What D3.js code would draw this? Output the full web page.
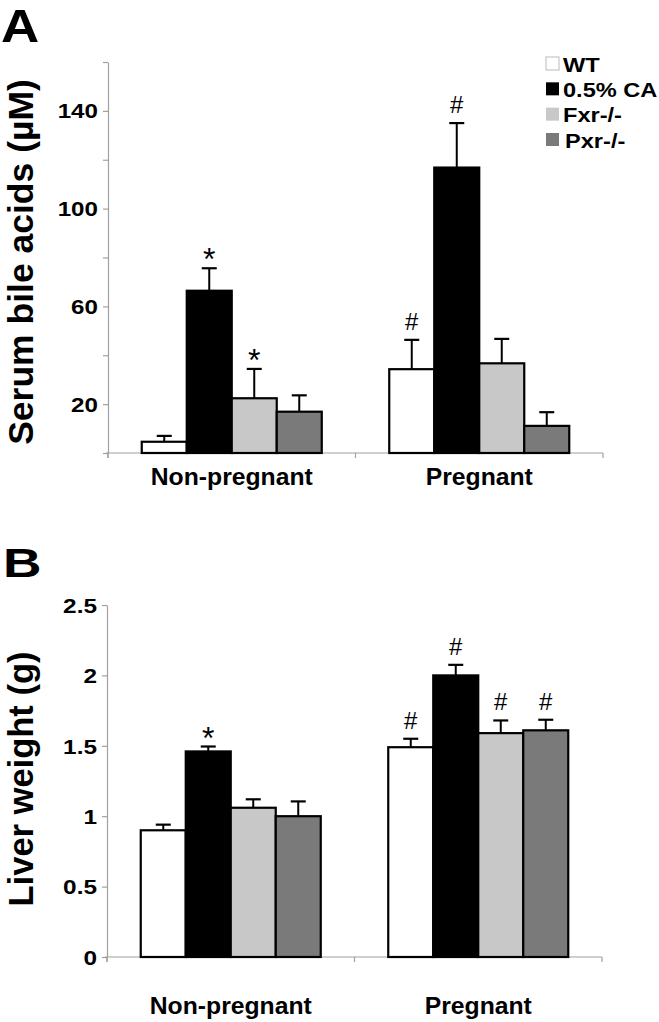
<!DOCTYPE html>
<html><head><meta charset="utf-8">
<script src="https://cdn.jsdelivr.net/npm/d3@7"></script>
<style>
html,body{margin:0;padding:0;background:#fff;}
text{font-family:"Liberation Sans",Arial,sans-serif;}
</style></head>
<body>
<script>
const categories = ["Non-pregnant", "Pregnant"];
const series = ["WT", "0.5% CA", "Fxr-/-", "Pxr-/-"];
const seriesColors = ["#ffffff", "#000000", "#c8c8c8", "#7a7a7a"];

// Panel A: serum bile acids (µM)
const bileMean = [[4.6, 66.4, 22.4, 16.9], [34.3, 116.8, 36.7, 11.1]];
const bileErr  = [[2.4, 9.2, 12.0, 6.7], [12.0, 18.2, 10.0, 5.6]];
const bileMarks = [["", "*", "*", ""], ["#", "#", "", ""]];
const bileTicks = [0, 20, 40, 60, 80, 100, 120, 140, 160];
const bileTickLabels = [20, 60, 100, 140];

// Panel B: liver weight (g)
const liverMean = [[0.90, 1.46, 1.06, 1.00], [1.49, 2.00, 1.59, 1.61]];
const liverErr  = [[0.04, 0.035, 0.06, 0.105], [0.06, 0.075, 0.09, 0.075]];
const liverMarks = [["", "*", "", ""], ["#", "#", "#", "#"]];
const liverTicks = [0, 0.5, 1, 1.5, 2, 2.5];

const W = 659, H = 1022;
const svg = d3.select("body").append("svg").attr("width", W).attr("height", H);

function stext(g, x, y, str, size, sx, anchor, weight) {
  return g.append("text")
    .attr("transform", `translate(${x},${y}) scale(${sx},1)`)
    .attr("text-anchor", anchor || "start")
    .attr("font-size", size)
    .attr("font-weight", weight || "bold")
    .attr("fill", "#000")
    .text(str);
}

function panel(cfg) {
  const g = svg.append("g");
  const x = d3.scaleBand().domain(categories).range(cfg.xRange).paddingInner(0).paddingOuter(0);
  const xs = d3.scaleBand().domain(series).range([0, x.bandwidth()]).paddingInner(0).paddingOuter(0.75);
  const y = d3.scaleLinear().domain(cfg.yDomain).range(cfg.yRange);

  // y axis
  const ya = d3.axisLeft(y).tickValues(cfg.ticks).tickSize(5).tickSizeOuter(0)
    .tickFormat(d => cfg.labelFilter(d) ? cfg.fmt(d) : "");
  const yg = g.append("g").attr("transform", `translate(${cfg.xRange[0]},0)`).call(ya);
  yg.select(".domain").attr("stroke", "#a0a0a0").attr("stroke-width", 1.2);
  yg.selectAll(".tick line").attr("stroke", "#a0a0a0").attr("stroke-width", 1.2);
  yg.selectAll(".tick text")
    .attr("x", null).attr("dy", "0.36em")
    .attr("transform", `translate(-10,0) scale(${cfg.tickSx},1)`)
    .attr("font-size", cfg.tickSize).attr("font-weight", "bold")
    .attr("fill", "#000");
  g.append("line").attr("x1", cfg.xRange[0]).attr("x2", cfg.xRange[0])
    .attr("y1", y(0)).attr("y2", y(0) + 5).attr("stroke", "#a0a0a0").attr("stroke-width", 1.2);

  // x axis
  g.append("line").attr("x1", cfg.xRange[0] - 2).attr("x2", cfg.xRange[1])
    .attr("y1", y(0)).attr("y2", y(0)).attr("stroke", "#a0a0a0").attr("stroke-width", 1.2);
  const bounds = categories.map(c => x(c)).concat([x.range()[1]]);
  g.selectAll(".xtick").data(bounds).join("line")
    .attr("x1", d => d).attr("x2", d => d).attr("y1", y(0)).attr("y2", y(0) + 5)
    .attr("stroke", "#a0a0a0").attr("stroke-width", 1.2);

  // category labels
  categories.forEach(c => {
    stext(g, x(c) + x.bandwidth() / 2, cfg.catY, c, 24, 1.03, "middle");
  });

  // bars, error bars and marks
  categories.forEach((c, ci) => {
    const gg = g.append("g").attr("transform", `translate(${x(c)},0)`);
    series.forEach((s, si) => {
      const m = cfg.mean[ci][si], e = cfg.err[ci][si];
      const cx = xs(s) + xs.bandwidth() / 2;
      gg.append("line").attr("x1", cx).attr("x2", cx).attr("y1", y(m)).attr("y2", y(m + e))
        .attr("stroke", "#000").attr("stroke-width", 2);
      gg.append("line").attr("x1", cx - 7.5).attr("x2", cx + 7.5).attr("y1", y(m + e)).attr("y2", y(m + e))
        .attr("stroke", "#000").attr("stroke-width", 2.2);
      gg.append("rect").attr("x", xs(s)).attr("width", xs.bandwidth())
        .attr("y", y(m)).attr("height", y(0) - y(m))
        .attr("fill", seriesColors[si]).attr("stroke", "#000").attr("stroke-width", 2.2);
      const mk = cfg.marks[ci][si];
      if (mk) {
        const isHash = mk === "#";
        gg.append("text").attr("x", cx).attr("y", y(m + e) + (isHash ? -10 : 2))
          .attr("text-anchor", "middle").attr("font-size", isHash ? 24 : 32).attr("fill", "#000")
          .text(mk);
      }
    });
  });

  // y title
  g.append("text")
    .attr("transform", `translate(${cfg.titleX},${cfg.titleY}) rotate(-90)`)
    .attr("text-anchor", "middle").attr("font-size", cfg.titleSize).attr("font-weight", "bold")
    .attr("fill", "#000").text(cfg.title);

  // panel letter
  stext(g, cfg.letterX, cfg.letterY, cfg.letter, cfg.letterSize, cfg.letterSx, "start");
  return {g, x, y};
}

panel({
  xRange: [108, 603], yDomain: [0, 160], yRange: [453, 62],
  ticks: bileTicks, labelFilter: d => bileTickLabels.includes(d), fmt: d => String(d),
  tickSize: 19.5, tickSx: 1.24,
  mean: bileMean, err: bileErr, marks: bileMarks,
  catY: 485, title: "Serum bile acids (\u00b5M)", titleX: 33, titleY: 262, titleSize: 35.5,
  letter: "A", letterX: 1, letterY: 42, letterSize: 46, letterSx: 1.15
});

panel({
  xRange: [107, 602], yDomain: [0, 2.5], yRange: [957, 605],
  ticks: liverTicks, labelFilter: d => true, fmt: d => String(d),
  tickSize: 20, tickSx: 1.22,
  mean: liverMean, err: liverErr, marks: liverMarks,
  catY: 1014, title: "Liver weight (g)", titleX: 33, titleY: 779, titleSize: 34.5,
  letter: "B", letterX: 3, letterY: 577, letterSize: 41, letterSx: 1.3
});

// legend (panel A)
const leg = svg.append("g");
const legY = d3.scalePoint().domain(series).range([64, 140]);
series.forEach((s, i) => {
  leg.append("rect").attr("x", 546).attr("y", legY(s) - 7).attr("width", 13).attr("height", 13)
    .attr("fill", seriesColors[i]).attr("stroke", i === 0 ? "#bbb" : "none").attr("stroke-width", 1);
  stext(leg, i === 3 ? 565 : 563, legY(s) + 7.5, s, 20, 1.18, "start");
});
</script>
</body></html>
